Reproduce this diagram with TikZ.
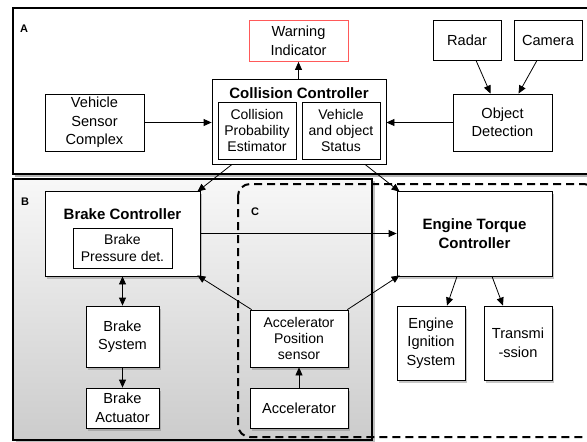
\documentclass[tikz,border=0pt]{standalone}
\usepackage{fontspec}
\setmainfont{Liberation Sans}
\usetikzlibrary{arrows.meta,shadows}
\tikzset{
  box/.style={draw=black, line width=0.8pt, fill=white, align=center, inner sep=0pt,
    font=\fontsize{14.6}{18.5}\selectfont},
  sbox/.style={box, drop shadow={shadow xshift=1.5pt, shadow yshift=-2.5pt, opacity=0.45}},
  ttl/.style={font=\fontsize{15}{18}\selectfont\bfseries, inner sep=0pt, align=center},
  lab/.style={font=\fontsize{11}{13}\selectfont\bfseries, inner sep=0pt},
  arr/.style={-{Triangle[length=8pt,width=7pt]}, line width=0.8pt},
  darr/.style={{Triangle[length=8pt,width=7pt]}-{Triangle[length=8pt,width=7pt]}, line width=0.8pt},
  frame/.style={line width=2.5pt, draw=black},
  small/.style={font=\fontsize{14}{16.2}\selectfont}
}
\begin{document}
\begin{tikzpicture}[x=1pt,y=-1pt]
\useasboundingbox (0,0) rectangle (587,442);
% region A
\path[frame, fill=white, drop shadow={shadow xshift=2pt, shadow yshift=-3pt, opacity=0.6}] (13,8) rectangle (592,174);
\node[lab] (labA) at (24,29) {A};
% region B
\path[frame, top color=gray!6, bottom color=gray!40, drop shadow={shadow xshift=3pt, shadow yshift=-2pt, opacity=0.5}] (13,179) rectangle (372,440);
\node[lab] (labB) at (25,202) {B};
% region C
\draw[line width=2pt, dash pattern=on 8pt off 5pt, rounded corners=12pt] (238,184) rectangle (596,437);
\node[lab] (labC) at (255,212) {C};

% A nodes
\node[box, draw=red!65] (warn) at (298.5,41) [minimum width=99pt, minimum height=41pt] {Warning\\Indicator};
\node[box] (cc) at (299,121.5) [minimum width=174pt, minimum height=85pt] {};
\node[ttl] (cctitle) at (299,93) {Collision Controller};
\node[box, small] (cpe) at (257,130.5) [minimum width=78pt, minimum height=57pt] {Collision\\Probability\\Estimator};
\node[box, small] (vos) at (341,130.5) [minimum width=78pt, minimum height=57pt] {Vehicle\\and object\\Status};
\node[box] (vsc) at (94.5,122.5) [minimum width=99pt, minimum height=57pt] {Vehicle\\Sensor\\Complex};
\node[box] (radar) at (467,40) [minimum width=68pt, minimum height=40pt] {Radar};
\node[box] (camera) at (548,40) [minimum width=68pt, minimum height=40pt] {Camera};
\node[box] (od) at (502.5,122.5) [minimum width=99pt, minimum height=57pt] {Object\\Detection};

% B nodes
\node[sbox] (bc) at (122.5,233.5) [minimum width=155pt, minimum height=85pt] {};
\node[ttl] (bctitle) at (122.5,214) {Brake Controller};
\node[box, small] (bpd) at (122.5,248) [minimum width=99pt, minimum height=40pt] {Brake\\Pressure det.};
\node[sbox] (bs) at (122.5,336.5) [minimum width=73pt, minimum height=61pt] {Brake\\System};
\node[sbox] (ba) at (122.5,408) [minimum width=73pt, minimum height=40pt] {Brake\\Actuator};
\node[sbox, small] (aps) at (299,338.5) [minimum width=98pt, minimum height=57pt] {Accelerator\\Position\\sensor};
\node[sbox] (acc) at (299,408) [minimum width=98pt, minimum height=40pt] {Accelerator};

% engine side
\node[sbox, font=\fontsize{15}{18.5}\selectfont\bfseries] (etc) at (474.5,233.5) [minimum width=155pt, minimum height=85pt] {Engine Torque\\Controller};
\node[sbox] (eis) at (431,343) [minimum width=68pt, minimum height=74pt] {Engine\\Ignition\\System};
\node[sbox] (trans) at (518,343) [minimum width=68pt, minimum height=74pt] {Transmi\\-ssion};

% connectors
\draw[arr] (vsc.east) -- (cc.west |- vsc.east);
\draw[arr] (od.west) -- (cc.east |- od.west);
\draw[arr] (cc.north -| warn.south) -- (warn.south);
\draw[arr] ([xshift=9pt]radar.south) -- ([xshift=-12pt]od.north);
\draw[arr] ([xshift=-11pt]camera.south) -- ([xshift=16pt]od.north);
\draw[arr] ([xshift=-67pt]cc.south) -- ([xshift=-3pt,yshift=-1pt]bc.north east);
\draw[arr] ([xshift=66pt]cc.south) -- ([xshift=3pt,yshift=-1pt]etc.north west);
\draw[arr] (bc.east) -- (etc.west);
\draw[darr] (bc.south -| bs.north) -- (bs.north);
\draw[arr] (bs.south) -- (ba.north);
\draw[arr] (acc.north) -- (aps.south);
\draw[arr] ([xshift=2pt]aps.north west) -- ([xshift=-3pt,yshift=1pt]bc.south east);
\draw[arr] ([xshift=-1pt]aps.north east) -- ([xshift=3pt,yshift=1pt]etc.south west);
\draw[arr] ([xshift=-17.5pt]etc.south) -- ([xshift=16pt]eis.north);
\draw[arr] ([xshift=17.5pt]etc.south) -- ([xshift=-15pt]trans.north);
\end{tikzpicture}
\end{document}
